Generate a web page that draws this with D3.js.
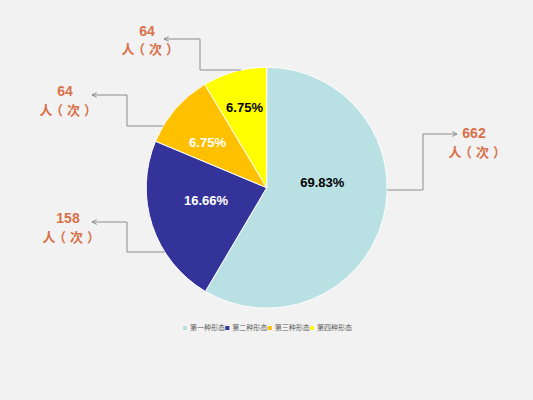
<!DOCTYPE html>
<html lang="zh">
<head>
  <meta charset="UTF-8" />
  <title>形态分布</title>
  <script src="https://d3js.org/d3.v7.min.js"></script>
  <style>
    html, body { margin: 0; padding: 0; background: #f2f2f2; }
    svg { display: block; font-family: "Liberation Sans", Arial, "Noto Sans CJK SC", sans-serif; }
    .unit { font-family: "Noto Sans CJK SC", sans-serif; font-feature-settings: "halt" 1; }
  </style>
</head>
<body>
  <div id="chart"></div>

  <script>
    // data
    const categories = ["第一种形态", "第二种形态", "第三种形态", "第四种形态"];
    const counts = [662, 158, 64, 64];
    const percentLabels = ["69.83%", "16.66%", "6.75%", "6.75%"];
    // share of the circle each slice actually takes in the picture
    const sliceShares = [58.5, 22.8, 10.1, 8.6];
    const colors = ["#b9e0e3", "#333399", "#ffc000", "#ffff00"];
    const pctColors = ["#000", "#fff", "#fff", "#000"];
    const unitLabel = "人（次）";

    const width = 533, height = 400;
    const cx = 266.7, cy = 187.7, r = 120.5;

    // label layout (percent label offsets from centre, callout elbows)
    const pctOffsets = [[55.6, -5.2], [-60.7, 12.3], [-59.2, -45.2], [-22.2, -80.7]];
    const callouts = [
      {side: 1,  edgeY: 190, elbowX: 423, tipX: 457, tipY: 134, labelX: 474, numY: 133, unitY: 152},
      {side: -1, edgeY: 252, elbowX: 127, tipX: 92,  tipY: 222, labelX: 68,  numY: 218, unitY: 237},
      {side: -1, edgeY: 126, elbowX: 127, tipX: 92,  tipY: 95,  labelX: 65,  numY: 91,  unitY: 110},
      {side: -1, edgeY: 70,  elbowX: 200, tipX: 164, tipY: 39,  labelX: 147, numY: 31,  unitY: 49}
    ];

    const rows = categories.map((c, i) => ({
      cat: c, count: counts[i], pct: percentLabels[i], share: sliceShares[i], i
    }));

    const svg = d3.select("#chart")
      .append("svg")
      .attr("width", width)
      .attr("height", height);

    svg.append("rect")
      .attr("width", width)
      .attr("height", height)
      .attr("fill", "#f2f2f2");

    svg.append("defs").append("marker")
      .attr("id", "arrow")
      .attr("viewBox", "0 0 10 10")
      .attr("refX", 9)
      .attr("refY", 5)
      .attr("markerWidth", 6)
      .attr("markerHeight", 6)
      .attr("markerUnits", "userSpaceOnUse")
      .attr("orient", "auto")
      .append("path")
      .attr("d", "M1,1 L9,5 L1,9")
      .attr("fill", "none")
      .attr("stroke", "#7f7f7f")
      .attr("stroke-width", 1.4);

    const pie = d3.pie()
      .sort(null)
      .value(d => d.share);

    const arc = d3.arc()
      .innerRadius(0)
      .outerRadius(r);

    const g = svg.append("g")
      .attr("transform", `translate(${cx},${cy})`);

    g.selectAll("path.slice")
      .data(pie(rows))
      .enter()
      .append("path")
      .attr("class", "slice")
      .attr("d", arc)
      .attr("fill", d => colors[d.data.i])
      .attr("stroke", "#fff")
      .attr("stroke-width", 1);

    g.selectAll("text.pct")
      .data(rows)
      .enter()
      .append("text")
      .attr("class", "pct")
      .attr("x", d => pctOffsets[d.i][0])
      .attr("y", d => pctOffsets[d.i][1])
      .attr("dy", "0.36em")
      .attr("text-anchor", "middle")
      .style("font-size", "13px")
      .style("font-weight", "bold")
      .attr("fill", d => pctColors[d.i])
      .text(d => d.pct);

    // callouts with leader lines
    const lines = svg.append("g");
    rows.forEach(d => {
      const c = callouts[d.i];
      const dy = c.edgeY - cy;
      const ex = cx + c.side * Math.sqrt(r * r - dy * dy);
      lines.append("path")
        .attr("d", `M${ex},${c.edgeY} H${c.elbowX} V${c.tipY} H${c.tipX}`)
        .attr("fill", "none")
        .attr("stroke", "#8c8c8c")
        .attr("stroke-width", 1)
        .attr("marker-end", "url(#arrow)");

      lines.append("text")
        .attr("x", c.labelX)
        .attr("y", c.numY)
        .attr("dy", "0.36em")
        .attr("text-anchor", "middle")
        .style("font-size", "14px")
        .style("font-weight", "bold")
        .attr("fill", "#d9704a")
        .text(d.count);

      // half-width brackets plus letter spacing: evenly spread "人 ( 次 )"
      lines.append("text")
        .attr("class", "unit")
        .attr("x", c.labelX + 2)
        .attr("y", c.unitY)
        .attr("dy", "0.36em")
        .attr("text-anchor", "middle")
        .style("font-size", "13px")
        .style("font-weight", "bold")
        .style("letter-spacing", "4px")
        .attr("fill", "#d9704a")
        .text(unitLabel);
    });

    // legend
    const legendX = d3.scalePoint()
      .domain(categories)
      .range([185, 312]);

    const legend = svg.append("g")
      .selectAll("g")
      .data(rows)
      .enter()
      .append("g")
      .attr("transform", d => `translate(${legendX(d.cat)},328)`);

    legend.append("rect")
      .attr("x", -2)
      .attr("y", -2)
      .attr("width", 4)
      .attr("height", 4)
      .attr("fill", d => colors[d.i]);

    legend.append("text")
      .attr("x", 5)
      .attr("dy", "0.35em")
      .style("font-size", "7px")
      .attr("fill", "#595959")
      .text(d => d.cat);
  </script>
</body>
</html>
